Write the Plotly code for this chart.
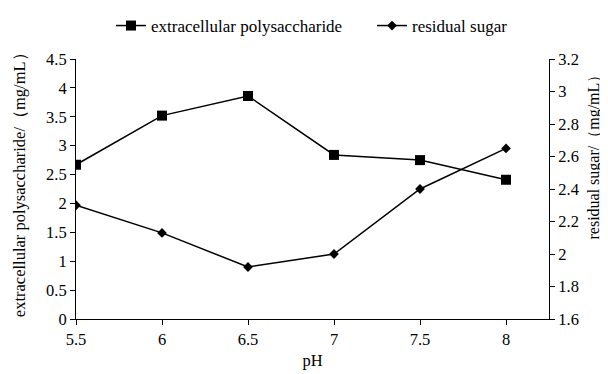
import plotly.graph_objects as go

ph = [5.5, 6, 6.5, 7, 7.5, 8]
eps = [2.67, 3.52, 3.86, 2.84, 2.75, 2.41]
sugar = [2.30, 2.13, 1.92, 2.00, 2.40, 2.65]

x_ticks = [5.5, 6, 6.5, 7, 7.5, 8]
x_tick_labels = ["5.5", "6", "6.5", "7", "7.5", "8"]
y1_ticks = [0, 0.5, 1, 1.5, 2, 2.5, 3, 3.5, 4, 4.5]
y1_labels = ["0", "0.5", "1", "1.5", "2", "2.5", "3", "3.5", "4", "4.5"]
y2_ticks = [1.6, 1.8, 2.0, 2.2, 2.4, 2.6, 2.8, 3.0, 3.2]
y2_labels = ["1.6", "1.8", "2", "2.2", "2.4", "2.6", "2.8", "3", "3.2"]

FONT = "Liberation Serif"

fig = go.Figure()
fig.add_trace(go.Scatter(x=ph, y=eps, name="extracellular polysaccharide",
                         mode="lines+markers", legend="legend",
                         line=dict(color="black", width=1.5),
                         marker=dict(symbol="square", size=10, color="black")))
fig.add_trace(go.Scatter(x=ph, y=sugar, name="residual sugar", yaxis="y2",
                         mode="lines+markers", legend="legend2",
                         line=dict(color="black", width=1.5),
                         marker=dict(symbol="diamond", size=7.5, color="black")))

axis_common = dict(showline=True, linecolor="black", linewidth=1,
                   ticks="outside", ticklen=5, tickcolor="black",
                   showgrid=False, zeroline=False, automargin=False,
                   tickfont=dict(family=FONT, size=16.5, color="black"))

leg_common = dict(orientation="h", xref="container", y=1.0, yref="container",
                  xanchor="left", yanchor="top",
                  font=dict(family=FONT, size=17, color="black"),
                  itemwidth=30, bgcolor="rgba(0,0,0,0)")

fig.update_layout(
    width=600, height=366,
    margin=dict(l=68, r=59, t=51, b=55),
    paper_bgcolor="white", plot_bgcolor="white",
    font=dict(family=FONT, color="black"),
    showlegend=True,
    legend=dict(x=0.1717, **leg_common),
    legend2=dict(x=0.6067, **leg_common),
    xaxis=dict(range=[5.5, 8.25], tickvals=x_ticks, ticktext=x_tick_labels,
               title=dict(text="pH", font=dict(family=FONT, size=16.5), standoff=6),
               **axis_common),
    yaxis=dict(range=[0, 4.5], tickvals=y1_ticks, ticktext=y1_labels,
               **axis_common),
    yaxis2=dict(range=[1.6, 3.2], tickvals=y2_ticks, ticktext=y2_labels,
                overlaying="y", side="right",
                **axis_common),
    annotations=[
        dict(text="extracellular polysaccharide/（mg/mL）", textangle=-90,
             xref="paper", yref="paper", x=-0.118, y=0.531,
             xanchor="center", yanchor="middle", showarrow=False,
             font=dict(family=FONT, size=16.5, color="black")),
        dict(text="residual sugar/（mg/mL）", textangle=-90,
             xref="paper", yref="paper", x=1.096, y=0.638,
             xanchor="center", yanchor="middle", showarrow=False,
             font=dict(family=FONT, size=16, color="black")),
    ],
)

fig.write_html("out.html")
